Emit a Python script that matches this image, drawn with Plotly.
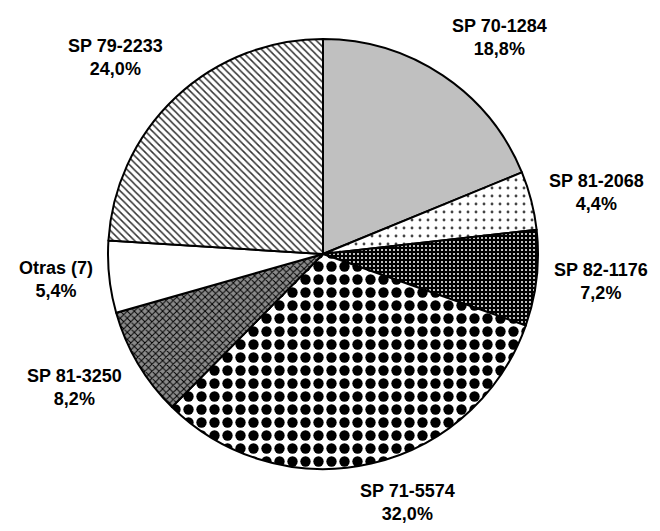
import math
import plotly.graph_objects as go

labels = ["SP 70-1284", "SP 81-2068", "SP 82-1176", "SP 71-5574", "SP 81-3250", "Otras (7)", "SP 79-2233"]
values = [18.8, 4.4, 7.2, 32.0, 8.2, 5.4, 24.0]

# styles
pat_shape = ["", ".", ".", ".", "x", "", "\\"]
pat_fg = ["#C0C0C0", "#444444", "#FFFFFF", "#000000", "#000000", "#FFFFFF", "#333333"]
pat_bg = ["#C0C0C0", "#FFFFFF", "#000000", "#FFFFFF", "#8A8A8A", "#FFFFFF", "#FFFFFF"]
pat_size = [8, 8, 4, 13, 5, 8, 5]
pat_sol = [0.2, 0.1, 0.2, 0.5, 0.35, 0.2, 0.3]

# layout of the pie in pixels
W, H = 660, 531
CX, CY, R = 323, 254, 215
LABEL_R = 278
nudges = [(22, 14), (4, 8), (2, -4), (22, -22), (-9, -8), (9, -4), (-17, 6)]

fig = go.Figure(go.Pie(
    labels=labels,
    values=values,
    textinfo="none",
    sort=False,
    direction="clockwise",
    rotation=0,
    marker=dict(
        colors=pat_bg,
        line=dict(color="black", width=2),
        pattern=dict(shape=pat_shape, fgcolor=pat_fg, bgcolor=pat_bg,
                     size=pat_size, solidity=pat_sol, fillmode="replace"),
    ),
    showlegend=False,
    domain=dict(x=[(CX - R) / W, (CX + R) / W], y=[1 - (CY + R) / H, 1 - (CY - R) / H]),
    hoverinfo="label+percent",
))

total = sum(values)
annotations = []
cum = 0.0
for lab, v, (nx, ny) in zip(labels, values, nudges):
    mid = (cum + v / 2) / total * 2 * math.pi
    cum += v
    px = CX + LABEL_R * math.sin(mid) + nx
    py = CY - LABEL_R * math.cos(mid) + ny
    txt = f"{lab}<br>{v:.1f}%".replace(".", ",")
    annotations.append(dict(
        x=px / W, y=1 - py / H, xref="paper", yref="paper",
        text=txt, showarrow=False, xanchor="center", yanchor="middle",
        align="center",
        font=dict(family="Liberation Sans, Arial, sans-serif", size=18, color="black", weight="bold"),
    ))

fig.update_layout(
    width=W, height=H,
    margin=dict(l=0, r=0, t=0, b=0),
    paper_bgcolor="white",
    plot_bgcolor="white",
    annotations=annotations,
)

fig.write_html("out.html", config={"displayModeBar": False},
               post_script="document.body.style.margin='0';document.body.style.overflow='hidden';")
